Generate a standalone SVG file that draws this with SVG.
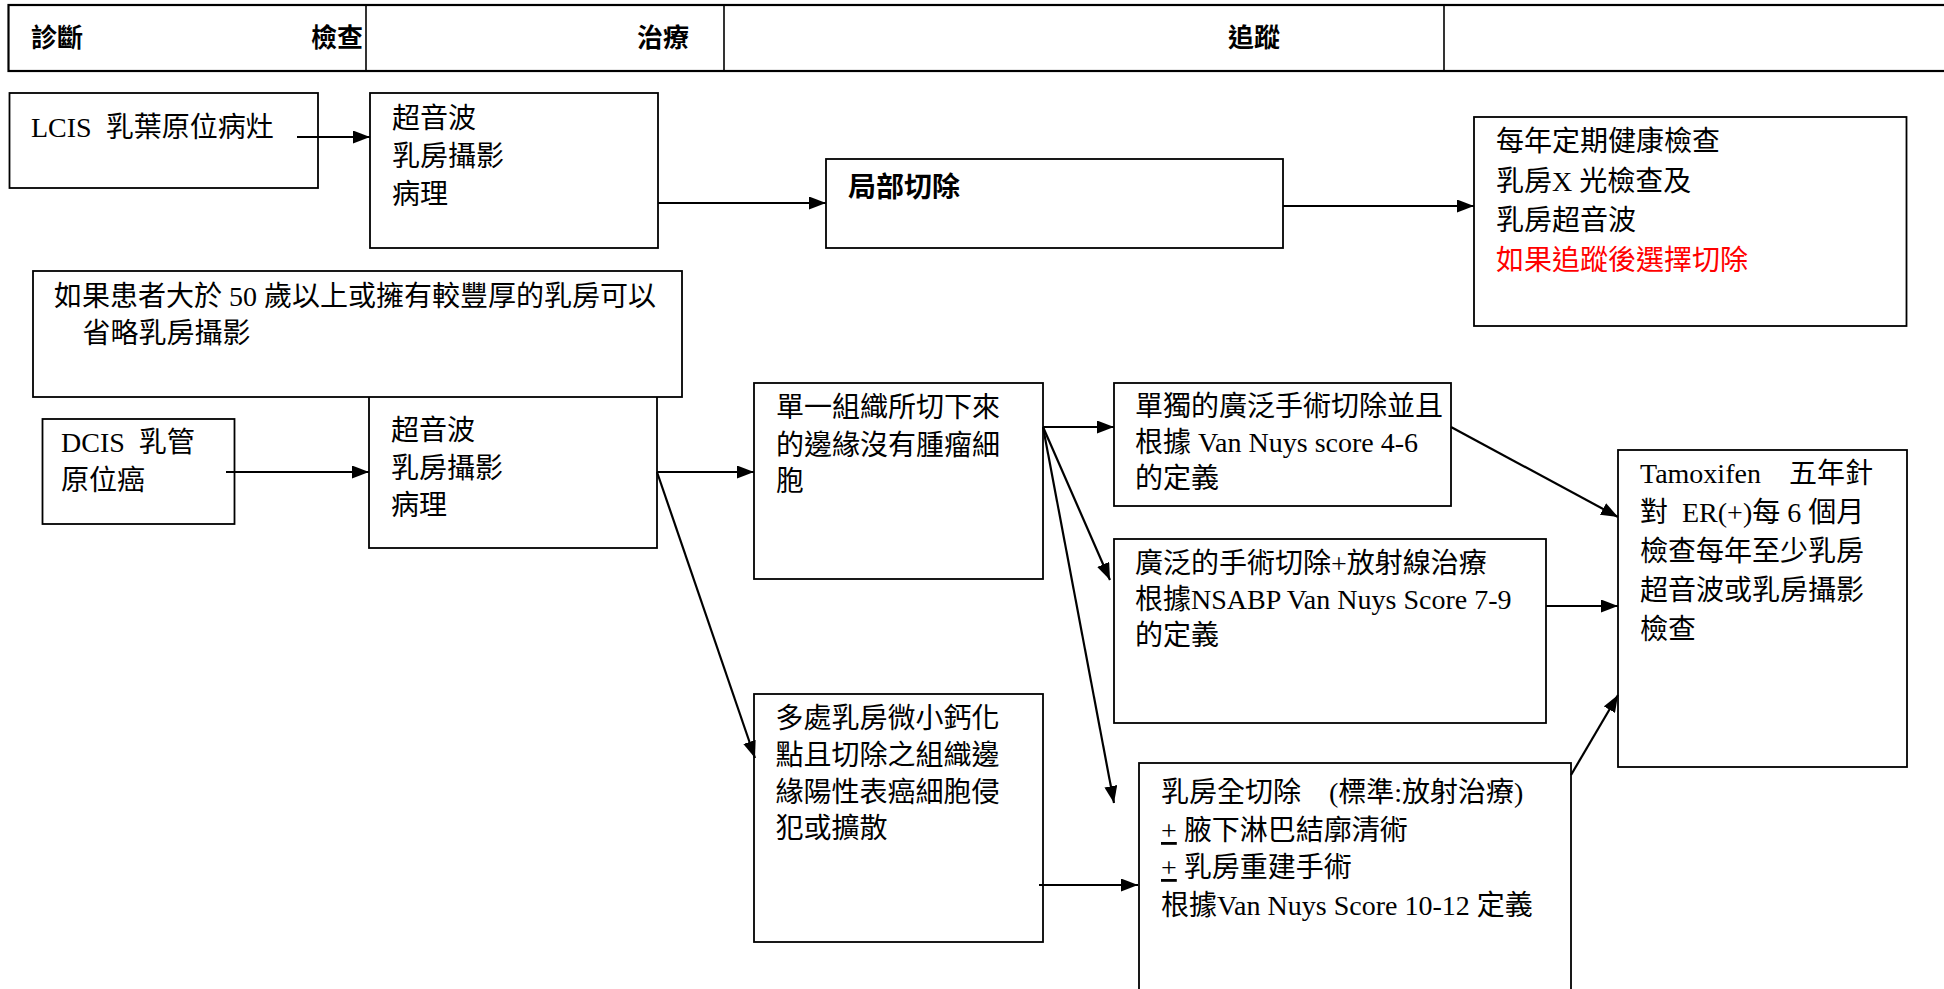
<svg xmlns="http://www.w3.org/2000/svg" width="1944" height="989" viewBox="0 0 1944 989">
<style>
.box{fill:#fff;stroke:#000;stroke-width:1.8}
.hdr{fill:none;stroke:#000;stroke-width:2.2}
.div{stroke:#000;stroke-width:1.6}
.t{font-family:"Liberation Serif","Noto Sans CJK TC",serif;font-size:28px;fill:#000;white-space:pre}
.h{font-family:"Liberation Sans","Noto Sans CJK TC",sans-serif;font-size:26px;font-weight:bold;fill:#000}
.b{font-family:"Liberation Sans","Noto Sans CJK TC",sans-serif;font-size:28px;font-weight:bold;fill:#000}
.red{fill:#ff0000}
.c{fill:none;stroke:#000;stroke-width:2.2;marker-end:url(#arr)}
</style>
<defs>
<marker id="arr" viewBox="0 0 17 13" refX="17" refY="6.5" markerWidth="17" markerHeight="13" markerUnits="userSpaceOnUse" orient="auto">
<path d="M0,0 L17,6.5 L0,13 z" fill="#000"/>
</marker>
</defs>
<g id="header">
<rect class="hdr" x="8.5" y="5" width="1945" height="66"/>
<line class="div" x1="366" y1="5" x2="366" y2="71"/>
<line class="div" x1="724" y1="5" x2="724" y2="71"/>
<line class="div" x1="1444" y1="5" x2="1444" y2="71"/>
<text class="h" x="31" y="47">診斷</text>
<text class="h" x="363" y="47" text-anchor="end">檢查</text>
<text class="h" x="637" y="47">治療</text>
<text class="h" x="1228" y="47">追蹤</text>
</g>
<g id="lcis">
<rect class="box" x="9.5" y="93" width="308.5" height="95"/>
<text class="t" x="31" y="137" xml:space="preserve">LCIS  乳葉原位病灶</text>
</g>
<g id="exam1">
<rect class="box" x="370" y="93" width="288" height="155"/>
<text class="t" x="392" y="128">超音波</text>
<text class="t" x="392" y="166">乳房攝影</text>
<text class="t" x="392" y="204">病理</text>
</g>
<g id="local">
<rect class="box" x="826" y="159" width="457" height="89"/>
<text class="b" x="848" y="197">局部切除</text>
</g>
<g id="followup1">
<rect class="box" x="1474" y="117" width="432.5" height="209"/>
<text class="t" x="1496" y="151">每年定期健康檢查</text>
<text class="t" x="1496" y="191">乳房X 光檢查及</text>
<text class="t" x="1496" y="230">乳房超音波</text>
<text class="t red" x="1496" y="270">如果追蹤後選擇切除</text>
</g>
<g id="exam2">
<rect class="box" x="369" y="390" width="288" height="158"/>
<text class="t" x="391" y="440">超音波</text>
<text class="t" x="391" y="478">乳房攝影</text>
<text class="t" x="391" y="515">病理</text>
</g>
<g id="note">
<rect class="box" x="33" y="271" width="649" height="126"/>
<text class="t" x="54" y="306">如果患者大於 50 歲以上或擁有較豐厚的乳房可以</text>
<text class="t" x="82.6" y="343">省略乳房攝影</text>
</g>
<g id="dcis">
<rect class="box" x="42.5" y="419" width="192" height="105"/>
<text class="t" x="61" y="452" xml:space="preserve">DCIS  乳管</text>
<text class="t" x="61" y="490">原位癌</text>
</g>
<g id="single">
<rect class="box" x="754" y="383" width="289" height="196"/>
<text class="t" x="776" y="417">單一組織所切下來</text>
<text class="t" x="776" y="455">的邊緣沒有腫瘤細</text>
<text class="t" x="776" y="491">胞</text>
</g>
<g id="multi">
<rect class="box" x="754" y="694" width="289" height="248"/>
<text class="t" x="775.6" y="728">多處乳房微小鈣化</text>
<text class="t" x="775.6" y="765">點且切除之組織邊</text>
<text class="t" x="775.6" y="802">緣陽性表癌細胞侵</text>
<text class="t" x="775.6" y="838">犯或擴散</text>
</g>
<g id="wide">
<rect class="box" x="1114" y="383" width="337" height="123"/>
<text class="t" x="1135" y="416">單獨的廣泛手術切除並且</text>
<text class="t" x="1135" y="452">根據 Van Nuys score 4-6</text>
<text class="t" x="1135" y="488">的定義</text>
</g>
<g id="wide_rt">
<rect class="box" x="1114" y="539" width="432" height="184"/>
<text class="t" x="1135" y="573">廣泛的手術切除+放射線治療</text>
<text class="t" x="1135" y="609">根據NSABP Van Nuys Score 7-9</text>
<text class="t" x="1135" y="645">的定義</text>
</g>
<g id="mastectomy">
<rect class="box" x="1139" y="763" width="432" height="240"/>
<text class="t" x="1161" y="802">乳房全切除　(標準:放射治療)</text>
<text class="t" x="1161" y="840" xml:space="preserve"><tspan text-decoration="underline">+</tspan> 腋下淋巴結廓清術</text>
<text class="t" x="1161" y="877" xml:space="preserve"><tspan text-decoration="underline">+</tspan> 乳房重建手術</text>
<text class="t" x="1161" y="915">根據Van Nuys Score 10-12 定義</text>
</g>
<g id="tamoxifen">
<rect class="box" x="1618" y="450" width="289" height="317"/>
<text class="t" x="1640" y="483">Tamoxifen　五年針</text>
<text class="t" x="1640" y="522" xml:space="preserve">對  ER(+)每 6 個月</text>
<text class="t" x="1640" y="561">檢查每年至少乳房</text>
<text class="t" x="1640" y="600">超音波或乳房攝影</text>
<text class="t" x="1640" y="639">檢查</text>
</g>
<g id="connectors">
<path class="c" d="M297,137 L370,137"/>
<path class="c" d="M658,203 L826,203"/>
<path class="c" d="M1283,206 L1474,206"/>
<path class="c" d="M226,472 L369,472"/>
<path class="c" d="M657,472 L754,472"/>
<path class="c" d="M657,472 L755,758"/>
<path class="c" d="M1043,427 L1114,427"/>
<path class="c" d="M1043,427 L1110,580"/>
<path class="c" d="M1043,427 L1114,803"/>
<path class="c" d="M1039,885 L1138,885"/>
<path class="c" d="M1451,427 L1618,517"/>
<path class="c" d="M1546,606 L1618,606"/>
<path class="c" d="M1571,775 L1618,695"/>
</g>
</svg>
